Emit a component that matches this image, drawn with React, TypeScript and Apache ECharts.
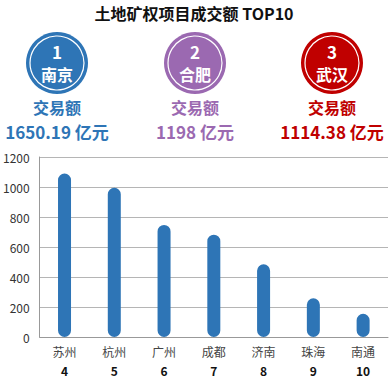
import React, { useEffect, useRef } from "react";
import * as echarts from "echarts";

const cities = ["苏州", "杭州", "广州", "成都", "济南", "珠海", "南通"];
const ranks = ["4", "5", "6", "7", "8", "9", "10"];
const values = [1090, 995, 747, 682, 485, 258, 155];

const topCities = ["南京", "合肥", "武汉"];
const topRanks = ["1", "2", "3"];
const topValues = ["1650.19 亿元", "1198 亿元", "1114.38 亿元"];
const topColors = ["#2E75B6", "#9B69B1", "#C00000"];
const topX = [57, 195, 332];

export default function App() {
  const ref = useRef<HTMLDivElement>(null);
  useEffect(() => {
    const chart = echarts.init(ref.current!, null, { renderer: "svg" });
    const font = "'Noto Sans CJK SC', 'Noto Sans', sans-serif";
    const graphics: any[] = [
      {
        type: "text",
        x: 194,
        y: 13,
        style: {
          text: "土地矿权项目成交额 TOP10",
          font: `bold 16px ${font}`,
          fill: "#111",
          textAlign: "center",
          textVerticalAlign: "middle",
        },
      },
    ];
    topCities.forEach((c, i) => {
      const cx = topX[i];
      const col = topColors[i];
      graphics.push(
        { type: "circle", shape: { cx, cy: 63, r: 31 }, style: { fill: col } },
        { type: "circle", shape: { cx, cy: 63, r: 27 }, style: { fill: "none", stroke: "#fff", lineWidth: 1.2 } },
        {
          type: "text",
          x: cx,
          y: 51,
          style: { text: topRanks[i], font: `bold 17px ${font}`, fill: "#fff", textAlign: "center", textVerticalAlign: "middle" },
        },
        {
          type: "text",
          x: cx,
          y: 74,
          style: { text: c, font: `bold 16px ${font}`, fill: "#fff", textAlign: "center", textVerticalAlign: "middle" },
        },
        {
          type: "text",
          x: cx,
          y: 107,
          style: { text: "交易额", font: `bold 16px ${font}`, fill: col, textAlign: "center", textVerticalAlign: "middle" },
        },
        {
          type: "text",
          x: cx,
          y: 131,
          style: { text: topValues[i], font: `bold 17px ${font}`, fill: col, textAlign: "center", textVerticalAlign: "middle" },
        }
      );
    });
    chart.setOption({
      animation: false,
      grid: { left: 38, right: 1, top: 157, bottom: 42 },
      xAxis: {
        type: "category",
        data: cities.map((c, i) => `{a|${c}}\n{b|${ranks[i]}}`),
        axisLine: { lineStyle: { color: "#999" } },
        axisTick: { show: false },
        axisLabel: {
          margin: 5,
          interval: 0,
          rich: {
            a: { fontSize: 12, color: "#444", lineHeight: 19, fontFamily: font },
            b: { fontSize: 12, color: "#111", fontWeight: "bold", lineHeight: 19, fontFamily: font },
          },
        },
      },
      yAxis: {
        type: "value",
        min: 0,
        max: 1200,
        interval: 200,
        axisLine: { show: true, lineStyle: { color: "#999" } },
        axisTick: { show: false },
        axisLabel: { fontSize: 12, color: "#333", margin: 10, fontFamily: font, formatter: (v: number) => String(v) },
        splitLine: { lineStyle: { color: "#b5b5b5", width: 1 } },
      },
      series: [
        {
          type: "bar",
          data: values,
          barWidth: 13,
          itemStyle: { color: "#2E75B6", borderRadius: 6.5 },
        },
      ],
      graphic: graphics,
    });
    return () => chart.dispose();
  }, []);
  return <div ref={ref} style={{ width: 389, height: 379, position: "absolute", left: 0, top: 0 }} />;
}
